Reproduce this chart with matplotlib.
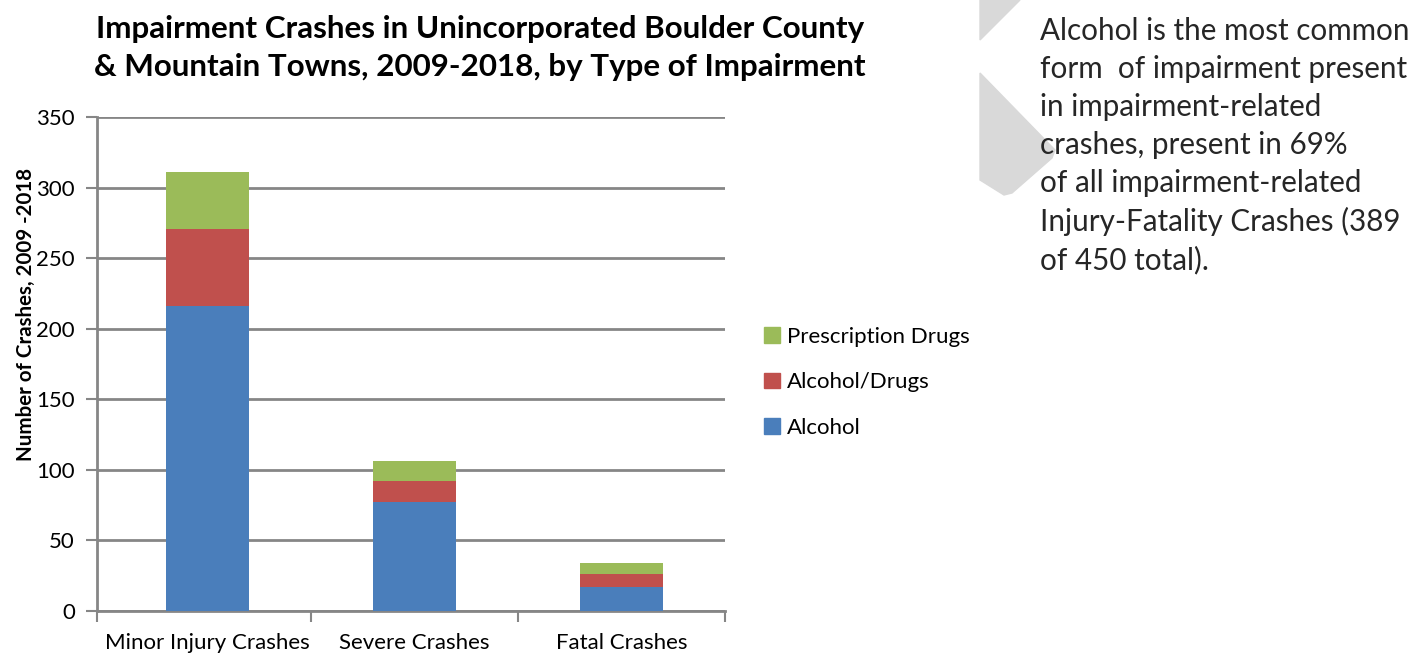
import numpy as np
import matplotlib.pyplot as plt
from matplotlib.patches import Polygon, Patch

# data
categories = ['Minor Injury Crashes', 'Severe Crashes', 'Fatal Crashes']
alcohol = [216, 77, 17]
alcohol_drugs = [55, 15, 9]
prescription = [40, 14, 8]
series_names = ['Alcohol', 'Alcohol/Drugs', 'Prescription Drugs']
colors = ['#4a7ebb', '#c0504d', '#9bbb59']
yticks = [0, 50, 100, 150, 200, 250, 300, 350]

plt.rcParams['font.family'] = ['Lato', 'DejaVu Sans']
W, H = 1414, 654
fig = plt.figure(figsize=(W / 100, H / 100), dpi=100)

def px(x, y):
    return (x / W, 1 - y / H)

# light gray decoration behind the side text
deco = '#d9d9d9'
fig.patches.append(Polygon([px(980, 0), px(1020, 0), px(980, 40)], closed=True,
                           transform=fig.transFigure, color=deco, zorder=0))
fig.patches.append(Polygon([px(980, 73), px(1055, 150), px(1052, 158), px(1012, 193),
                            px(1004, 195), px(980, 180)], closed=True,
                           transform=fig.transFigure, color=deco, zorder=0))

ax = fig.add_axes([97 / W, 1 - 611 / H, 628 / W, 494 / H])
x = np.arange(len(categories))
bw = 0.4
ax.bar(x, alcohol, bw, color=colors[0], zorder=3)
bottom2 = np.array(alcohol)
ax.bar(x, alcohol_drugs, bw, bottom=bottom2, color=colors[1], zorder=3)
bottom3 = bottom2 + np.array(alcohol_drugs)
ax.bar(x, prescription, bw, bottom=bottom3, color=colors[2], zorder=3)

x0 = -0.534
ax.set_xlim(x0, 2.5)
ax.set_ylim(0, 350)
ax.set_yticks(yticks)
ax.yaxis.grid(True, color='#868686', linewidth=2, zorder=0)
ax.set_axisbelow(True)
for s in ['top', 'right']:
    ax.spines[s].set_visible(False)
for s in ['left', 'bottom']:
    ax.spines[s].set_color('#868686')
    ax.spines[s].set_linewidth(2)
ax.tick_params(axis='y', length=8, width=1.5, color='#868686', labelsize=16, pad=8)
ax.set_xticks(x)
ax.set_xticklabels(categories, fontsize=16)
ax.tick_params(axis='x', length=0, pad=16)
ax.set_xticks([x0, 0.5, 1.5, 2.5], minor=True)
ax.tick_params(axis='x', which='minor', length=8, width=1.5, color='#868686')
ax.set_ylabel('Number of Crashes, 2009 -2018', fontsize=14.8, fontweight='bold')
ax.yaxis.set_label_coords(-0.097, 0.6)

handles = [Patch(color=c) for c in colors[::-1]]
fig.legend(handles, series_names[::-1], loc='upper left',
           bbox_to_anchor=(744 / W, 1 - 307 / H), frameon=False, fontsize=16,
           handlelength=0.7, handleheight=0.7, handletextpad=0.35, labelspacing=1.14)

fig.text(480 / W, 1 - 48 / H,
         'Impairment Crashes in Unincorporated Boulder County\n& Mountain Towns, 2009-2018, by Type of Impairment',
         ha='center', va='center', fontsize=22.6, fontweight='bold', linespacing=1.45)

side = ('Alcohol is the most common\nform  of impairment present\nin impairment-related\n'
        'crashes, present in 69%\nof all impairment-related\nInjury-Fatality Crashes (389\nof 450 total).')
fig.text(1040 / W, 1 - 17 / H, side, ha='left', va='top', fontsize=21.3,
         color='#262626', linespacing=1.43)

fig.savefig('out.png', dpi=100)
